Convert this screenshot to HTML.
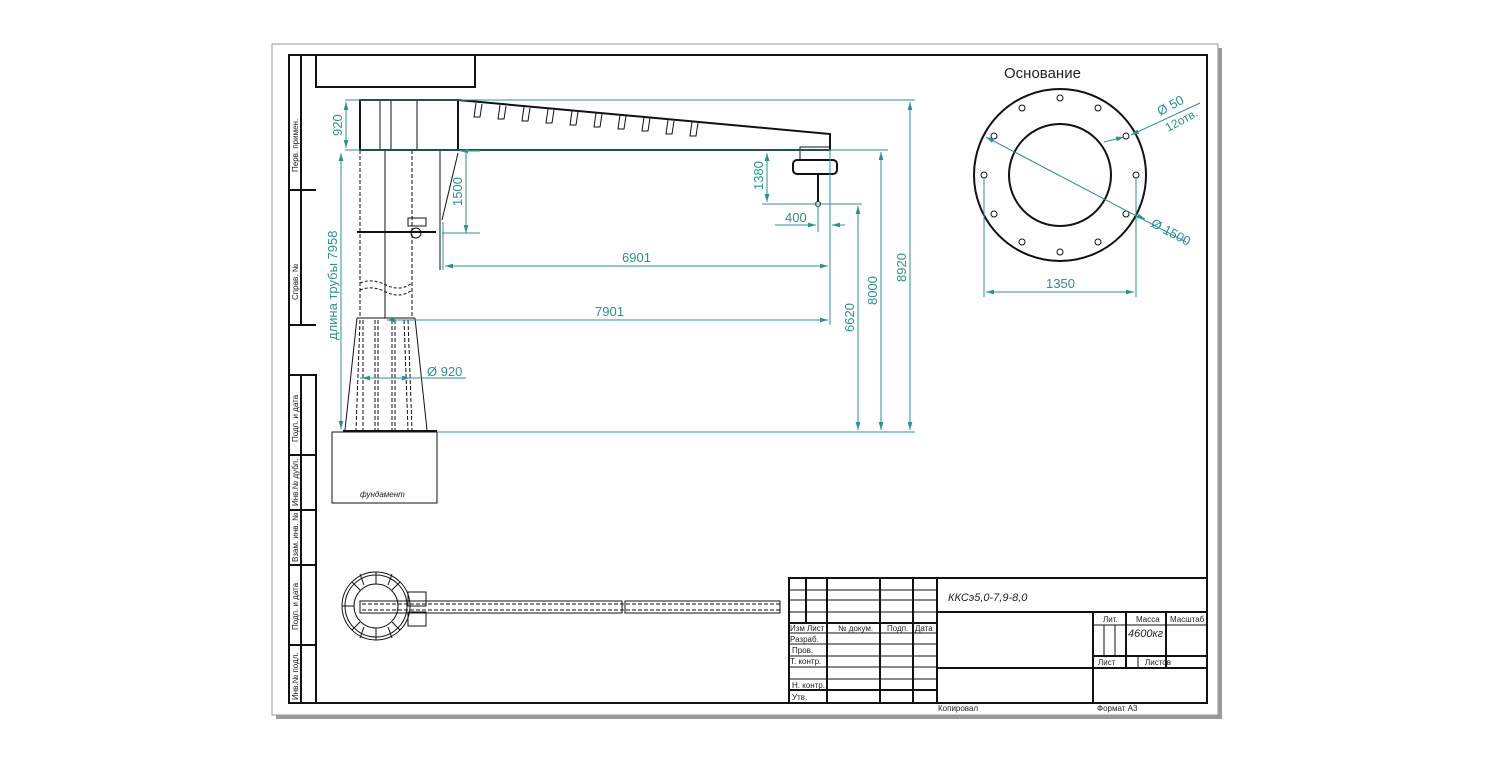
<!DOCTYPE html>
<html><head><meta charset="utf-8"><style>
html,body{margin:0;padding:0;background:#fff}
svg{display:block}
text{font-family:"Liberation Sans Narrow","Liberation Sans",sans-serif}
.k{stroke:#111;fill:none;stroke-width:1}
.K{stroke:#111;fill:none;stroke-width:2}
.d{stroke:#2e9090;fill:none;stroke-width:1}
.t{fill:#2e9090;font-size:13px}
.s{fill:#222;font-size:8px}
.dash{stroke:#111;fill:none;stroke-width:1;stroke-dasharray:4 2}
</style></head><body>
<svg width="1500" height="762" viewBox="0 0 1500 762" xmlns="http://www.w3.org/2000/svg">
<defs>
<marker id="a" viewBox="0 0 10 6" refX="10" refY="3" markerWidth="8" markerHeight="5" orient="auto-start-reverse"><path d="M0,0L10,3L0,6z" fill="#2e9090"/></marker>
</defs>
<rect x="276" y="48" width="946" height="671" fill="#9a9a9a"/>
<rect x="272" y="44" width="946" height="671" fill="#fff" stroke="#999"/>
<rect x="289" y="55" width="918" height="648" class="K"/>
<rect x="316" y="55" width="159" height="32" class="K"/>
<path class="K" d="M289,55V325H316M301,55V325M289,190H316M289,375H316V703M301,375V703M289,455H316M289,510H316M289,565H316M289,645H316"/>
<g class="s" font-size="7">
<text transform="translate(298,172) rotate(-90)">Перв. примен.</text>
<text transform="translate(298,300) rotate(-90)">Справ. №</text>
<text transform="translate(298,442) rotate(-90)">Подп. и дата</text>
<text transform="translate(298,506) rotate(-90)">Инв.№ дубл.</text>
<text transform="translate(298,562) rotate(-90)">Взам. инв. №</text>
<text transform="translate(298,630) rotate(-90)">Подп. и дата</text>
<text transform="translate(298,700) rotate(-90)">Инв.№ подл.</text>
</g>
<rect x="360" y="100" width="98" height="50" class="K"/>
<path class="k" d="M380,100V150M391,100V150M417,100V150"/>
<path class="K" d="M458,100L830,134V150M360,150H830"/>
<g class="k">
<path d="M476,103l-2,14h6l2,-13M500,105l-2,14h6l2,-13M524,107l-2,14h6l2,-13M548,109l-2,14h6l2,-13M572,111l-2,14h6l2,-13M596,113l-2,14h6l2,-13M620,115l-2,14h6l2,-13M644,117l-2,14h6l2,-13M668,120l-2,14h6l2,-13M692,122l-2,14h6l2,-13"/>
</g>
<rect x="800" y="147" width="30" height="13" class="k"/>
<rect x="793" y="160" width="44" height="14" rx="4" class="K"/>
<path class="K" d="M818,174V201"/><circle cx="818" cy="204" r="2.5" class="k"/>
<path class="dash" d="M360,150V318M412,150V318"/>
<path class="k" d="M385,150V318M440,150V270"/>
<path class="k" d="M458,153L442,220"/>
<path class="k" d="M360,283q12,-5 26,2t26,-2M360,290q12,-5 26,2t26,-2" stroke-dasharray="3 2"/>
<path class="K" d="M357,232H436"/>
<rect x="408" y="218" width="18" height="8" class="k"/><circle cx="416" cy="233" r="5" class="k"/>
<path class="k" d="M357,318L345,430M415,318L427,430M357,318H415"/>
<path class="dash" d="M360,320L356,430M363,320V430M375,320V430M378,320V430M392,320V430M395,320V430M404,320L408,430M408,320L412,430"/>
<path class="K" d="M343,431H437"/>
<rect x="332" y="432" width="105" height="71" class="k"/>
<text x="360" y="497" class="s" font-size="10" font-style="italic">фундамент</text>
<g class="d">
<path d="M345,100H915M345,150H888M437,432H915M762,204H862"/>
<path d="M346,102V148" marker-start="url(#a)" marker-end="url(#a)"/>
<path d="M341,153V429" marker-start="url(#a)" marker-end="url(#a)"/>
<path d="M460,151H480M466,153V233" marker-start="url(#a)" marker-end="url(#a)"/>
<path d="M442,233H480"/>
<path d="M767,153V202" marker-start="url(#a)" marker-end="url(#a)"/>
<path d="M443,222V270M830,150V325M818,206V232"/>
<path d="M775,225H816" marker-end="url(#a)"/><path d="M845,225H832" marker-end="url(#a)"/>
<path d="M445,266H828" marker-start="url(#a)" marker-end="url(#a)"/>
<path d="M387,320H828" marker-start="url(#a)" marker-end="url(#a)"/>
<path d="M360,378H466"/><path d="M362,378H372" marker-start="url(#a)"/><path d="M400,378H410" marker-end="url(#a)"/>
<path d="M858,206V430" marker-start="url(#a)" marker-end="url(#a)"/>
<path d="M881,152V430" marker-start="url(#a)" marker-end="url(#a)"/>
<path d="M910,102V430" marker-start="url(#a)" marker-end="url(#a)"/>
</g>
<g class="t">
<text transform="translate(342,136) rotate(-90)">920</text>
<text transform="translate(337,340) rotate(-90)">длина трубы 7958</text>
<text transform="translate(462,206) rotate(-90)">1500</text>
<text transform="translate(763,190) rotate(-90)">1380</text>
<text x="785" y="222">400</text>
<text x="622" y="262">6901</text>
<text x="595" y="316">7901</text>
<text x="427" y="376">Ø 920</text>
<text transform="translate(854,332) rotate(-90)">6620</text>
<text transform="translate(877,305) rotate(-90)">8000</text>
<text transform="translate(906,282) rotate(-90)">8920</text>
</g>
<text x="1004" y="78" font-size="15" fill="#222">Основание</text>
<circle cx="1060" cy="175" r="86" class="K"/>
<circle cx="1060" cy="175" r="51" class="K"/>
<g class="k" stroke-width="1.5">
<circle cx="1060" cy="98" r="3"/><circle cx="1098" cy="108" r="3"/><circle cx="1126" cy="136" r="3"/><circle cx="1136" cy="175" r="3"/><circle cx="1126" cy="214" r="3"/><circle cx="1098" cy="242" r="3"/><circle cx="1060" cy="252" r="3"/><circle cx="1022" cy="242" r="3"/><circle cx="994" cy="214" r="3"/><circle cx="984" cy="175" r="3"/><circle cx="994" cy="136" r="3"/><circle cx="1022" cy="108" r="3"/>
</g>
<g class="d">
<path d="M986,137L1186,242" marker-start="url(#a)"/><path d="M1138,216L1145,219" marker-end="url(#a)"/>
<path d="M1104,142L1124,137" marker-end="url(#a)"/><path d="M1200,103L1131,135" marker-end="url(#a)"/>
<path d="M984,178V297M1136,178V297"/>
<path d="M986,292H1134" marker-start="url(#a)" marker-end="url(#a)"/>
</g>
<g class="t">
<text transform="translate(1160,116) rotate(-28)">Ø 50</text>
<text transform="translate(1168,132) rotate(-28)" font-size="12">12отв.</text>
<text transform="translate(1150,226) rotate(28)">Ø 1500</text>
<text x="1046" y="288">1350</text>
</g>
<circle cx="376" cy="606" r="34" class="k"/><circle cx="376" cy="606" r="31" class="k"/><circle cx="376" cy="606" r="22" class="k"/>
<path class="k" d="M376,572V584M376,628V640M342,606H354M352,582l8,8M400,582l-8,8M352,630l8,-8M400,630l-8,-8M360,574l4,11M392,574l-4,11M360,638l4,-11M392,638l-4,-11"/>
<rect x="360" y="601" width="262" height="12" class="k"/>
<rect x="625" y="601" width="155" height="12" class="k"/>
<path class="dash" d="M362,604H780M362,610H780"/>
<rect x="408" y="592" width="18" height="14" class="k"/><rect x="408" y="612" width="18" height="14" class="k"/>
<g class="K">
<rect x="789" y="578" width="418" height="125"/>
<path d="M937,578V703M806,578V623M827,578V703M880,578V703M913,578V703M789,623H937M789,690H937M937,612H1207M937,668H1207M1093,612V703M1126,612V668M1166,612V668M1093,656H1207"/>
</g>
<path class="k" d="M789,590H937M789,600H937M789,612H937M789,633H937M789,644H937M789,656H937M789,667H937M789,679H937M1093,625H1207M1104,625V656M1115,625V656M1138,656V668"/>
<g class="s">
<text x="790" y="631">Изм</text><text x="807" y="631">Лист</text><text x="838" y="631">№ докум.</text><text x="887" y="631">Подп.</text><text x="915" y="631">Дата</text>
<text x="790" y="642">Разраб.</text><text x="792" y="653">Пров.</text><text x="790" y="664">Т. контр.</text>
<text x="792" y="688">Н. контр.</text><text x="792" y="700">Утв.</text>
<text x="1103" y="622">Лит.</text><text x="1136" y="622">Масса</text><text x="1170" y="622">Масштаб</text>
<text x="1098" y="665">Лист</text><text x="1145" y="665">Листов</text>
<text x="938" y="711">Копировал</text><text x="1097" y="711">Формат  А3</text>
</g>
<text x="948" y="601" font-size="11" font-style="italic" fill="#222">ККСэ5,0-7,9-8,0</text>
<text x="1128" y="637" font-size="11" font-style="italic" fill="#222">4600кг</text>
</svg>
</body></html>
